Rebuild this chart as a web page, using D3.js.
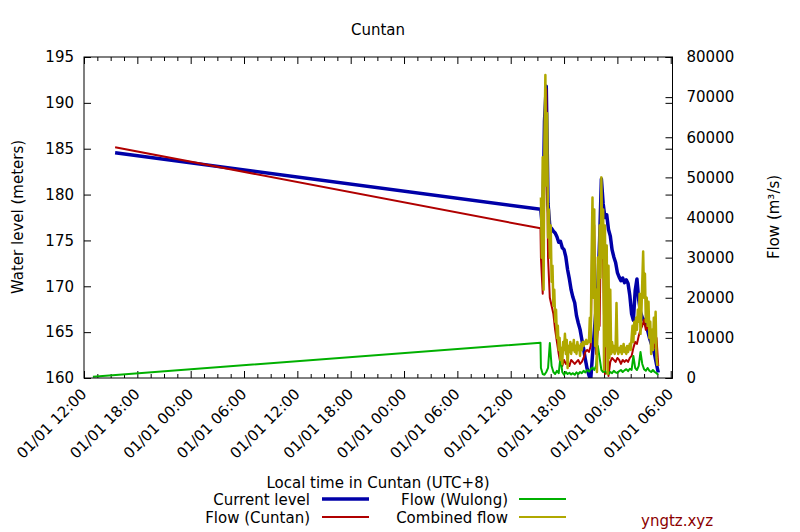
<!DOCTYPE html>
<html>
<head>
<meta charset="utf-8">
<script src="https://cdn.jsdelivr.net/npm/d3@7"></script>
<style>
  html, body { margin: 0; padding: 0; background: #fff; }
  svg { display: block; }
  text { font-family: "DejaVu Sans", sans-serif; font-size: 15px; fill: #000; }
</style>
</head>
<body>
<svg id="chart" width="800" height="532"></svg>
<script>
// ---------------- DATA ----------------
const chartTitle = "Cuntan";
const xTickHours = [0, 6, 12, 18, 24, 30, 36, 42, 48, 54, 60, 66];
const xTickLabels = ["01/01 12:00","01/01 18:00","01/01 00:00","01/01 06:00","01/01 12:00","01/01 18:00",
                     "01/01 00:00","01/01 06:00","01/01 12:00","01/01 18:00","01/01 00:00","01/01 06:00"];
const levelTicks = [160, 165, 170, 175, 180, 185, 190, 195];
const flowTicks = [0, 10000, 20000, 30000, 40000, 50000, 60000, 70000, 80000];

// early sparse readings (hours since first tick)
const levelEarlyHours = [3.5, 51.35];
const levelEarly = [184.55, 178.4];
const cuntanEarlyHours = [3.5, 51.35];
const cuntanEarly = [57500, 37300];
const wulongEarlyHours = [1.0, 51.35];
const wulongEarly = [300, 8800];

// dense readings (hours since first tick), 12-minute samples
const sampleHours = [51.4,51.6,51.8,52.0,52.2,52.4,52.6,52.8,53.0,53.2,53.4,53.6,53.8,54.0,54.2,54.4,54.6,54.8,
  55.0,55.2,55.4,55.6,55.8,56.0,56.2,56.4,56.6,56.8,57.0,57.2,57.4,57.6,57.8,58.0,58.2,58.4,58.6,58.8,
  59.0,59.2,59.4,59.6,59.8,60.0,60.2,60.4,60.6,60.8,61.0,61.2,61.4,61.6,61.8,62.0,62.2,62.4,62.6,62.8,
  63.0,63.2,63.4,63.6,63.8,64.0,64.2,64.4,64.6];
const levelValues = [178.2,176.0,188.0,191.8,179.0,176.5,176.3,176.0,175.8,175.4,174.8,174.9,174.2,174.0,173.2,171.8,170.8,169.6,
  168.8,168.2,166.8,166.0,165.3,164.2,163.2,162.0,161.0,160.3,159.8,162.5,165.0,167.5,170.0,175.0,181.7,179.0,177.5,177.8,
  176.2,175.5,174.0,173.2,172.6,171.5,171.0,170.6,170.9,170.4,170.7,170.3,169.0,167.0,166.3,169.5,170.8,168.5,167.2,166.6,
  166.3,165.8,165.2,164.4,163.8,163.2,162.5,161.5,160.6];
const cuntanValues = [30000,21000,50000,72000,30000,20000,18000,16000,12000,9000,6000,3500,3000,4500,3500,4000,3000,4500,
  4000,3500,4000,4500,3500,4000,5000,6500,7000,6500,8000,40000,38000,6000,12000,13000,46000,28000,1000,25000,
  500,4000,5000,4500,4000,5000,4500,3500,4500,4000,4500,4000,5000,5500,7500,9000,8500,10500,12000,13000,
  14500,12000,13500,11000,10000,7000,8000,10000,3000];
const wulongValues = [2500,1000,800,1500,2500,8700,3000,1500,1000,1800,1200,5200,1500,800,1500,1000,1300,900,
  1200,800,1400,1000,1500,1200,1800,1400,2000,1600,2200,2600,2000,3000,8000,5000,2000,1500,1800,1200,
  1000,1500,1200,1800,1400,1200,1700,2000,1500,1900,2200,1700,2300,2000,5500,2500,2000,3000,6500,3500,
  2200,1800,2500,1800,1500,2000,1500,1200,800];

// combined flow, 6-minute samples
const combinedHours = [51.4,51.5,51.6,51.7,51.8,51.9,52.0,52.1,52.2,52.3,52.4,52.5,52.6,52.7,52.8,52.9,53.0,53.1,53.2,53.3,
  53.4,53.5,53.6,53.7,53.8,53.9,54.0,54.1,54.2,54.3,54.4,54.5,54.6,54.7,54.8,54.9,55.0,55.1,55.2,55.3,
  55.4,55.5,55.6,55.7,55.8,55.9,56.0,56.1,56.2,56.3,56.4,56.5,56.6,56.7,56.8,56.9,57.0,57.1,57.2,57.3,
  57.4,57.5,57.6,57.7,57.8,57.9,58.0,58.1,58.2,58.3,58.4,58.5,58.6,58.7,58.8,58.9,59.0,59.1,59.2,59.3,
  59.4,59.5,59.6,59.7,59.8,59.9,60.0,60.1,60.2,60.3,60.4,60.5,60.6,60.7,60.8,60.9,61.0,61.1,61.2,61.3,
  61.4,61.5,61.6,61.7,61.8,61.9,62.0,62.1,62.2,62.3,62.4,62.5,62.6,62.7,62.8,62.9,63.0,63.1,63.2,63.3,
  63.4,63.5,63.6,63.7,63.8,63.9,64.0,64.1,64.2,64.3,64.4,64.5];
const combinedValues = [45000,30000,55000,22000,60000,75500,48000,66000,35000,42000,30000,38000,24000,28000,18000,22000,14000,17000,10000,13000,
  7000,10000,4500,7500,3500,9000,7000,11000,6000,9500,2500,8000,6500,9000,6000,8500,7000,9500,6500,8000,
  6000,9000,7000,8000,5500,8500,7000,9000,8000,9000,8500,9500,8500,9000,9000,15000,9000,30000,45000,20000,
  42000,8000,22000,1500,30000,12000,38000,25000,50000,30000,42000,2000,38000,8000,33000,1000,28000,5000,22000,6000,
  9000,6500,8000,6000,7500,18700,7000,6000,7500,6500,8000,6000,7000,8500,6500,7500,6000,8000,6500,7500,
  8500,7000,10000,13000,9000,14000,11000,15000,12000,17000,14000,21000,11000,16000,24000,31500,20000,26000,14000,20000,
  13000,19000,10000,14000,6000,12000,7000,15000,9000,16500,5000,3000];

const seriesNames = ["Current level", "Flow (Cuntan)", "Flow (Wulong)", "Combined flow"];
const seriesColors = ["#0000a8", "#b00000", "#00b000", "#b0a800"];

// ---------------- LAYOUT ----------------
const L = 84, R = 672.5, T = 57, B = 378;
const svg = d3.select("#chart");

const x = d3.scaleLinear().domain([0, 66.2]).range([L, R]);
const yL = d3.scaleLinear().domain([160, 195]).range([B, T]);
const yR = d3.scaleLinear().domain([0, 80000]).range([B, T]);

svg.append("defs").append("clipPath").attr("id", "clip")
  .append("rect").attr("x", L).attr("y", T - 2).attr("width", R - L).attr("height", B - T + 2);

// title
svg.append("text").attr("x", 378).attr("y", 35).attr("text-anchor", "middle").text(chartTitle);

// ---- axes ----
const minorHours = [];
xTickHours.forEach(h => { [1.5, 3, 4.5].forEach(o => { if (h + o <= 66.2) minorHours.push(h + o); }); });

function styleAxis(g) {
  g.select(".domain").remove();
  g.selectAll("line").attr("stroke", "#000").attr("stroke-width", 1);
}

const gxb = svg.append("g").attr("transform", `translate(0,${B})`)
  .call(d3.axisBottom(x).tickValues(xTickHours).tickFormat((d, i) => xTickLabels[i]).tickSizeInner(-7).tickSizeOuter(0));
styleAxis(gxb);
gxb.selectAll("text")
  .attr("x", null).attr("y", null).attr("dy", null)
  .attr("text-anchor", "end")
  .attr("font-size", 15)
  .attr("font-family", "DejaVu Sans, sans-serif")
  .attr("fill", "#000")
  .attr("transform", "translate(3,17) rotate(-45)");
const gxbm = svg.append("g").attr("transform", `translate(0,${B})`)
  .call(d3.axisBottom(x).tickValues(minorHours).tickFormat("").tickSizeInner(-4).tickSizeOuter(0));
styleAxis(gxbm);
const gxt = svg.append("g").attr("transform", `translate(0,${T})`)
  .call(d3.axisTop(x).tickValues(xTickHours).tickFormat("").tickSizeInner(-7).tickSizeOuter(0));
styleAxis(gxt);
const gxtm = svg.append("g").attr("transform", `translate(0,${T})`)
  .call(d3.axisTop(x).tickValues(minorHours).tickFormat("").tickSizeInner(-4).tickSizeOuter(0));
styleAxis(gxtm);

const gyl = svg.append("g").attr("transform", `translate(${L},0)`)
  .call(d3.axisLeft(yL).tickValues(levelTicks).tickSizeInner(-7).tickSizeOuter(0).tickPadding(10));
styleAxis(gyl);
gyl.selectAll("text").attr("font-size", 15).attr("font-family", "DejaVu Sans, sans-serif").attr("fill", "#000");
const gylm = svg.append("g").attr("transform", `translate(${R},0)`)
  .call(d3.axisRight(yL).tickValues(levelTicks).tickFormat("").tickSizeInner(-7).tickSizeOuter(0));
styleAxis(gylm);
const gyr = svg.append("g").attr("transform", `translate(${R},0)`)
  .call(d3.axisRight(yR).tickValues(flowTicks).tickFormat(d3.format("d")).tickSizeInner(-7).tickSizeOuter(0).tickPadding(14));
styleAxis(gyr);
gyr.selectAll("text").attr("font-size", 15).attr("font-family", "DejaVu Sans, sans-serif").attr("fill", "#000");

svg.append("text").attr("transform", `translate(23,217) rotate(-90)`).attr("text-anchor", "middle").text("Water level (meters)");
svg.append("text").attr("transform", `translate(779,217) rotate(-90)`).attr("text-anchor", "middle").text("Flow (m³/s)");

// ---- series ----
function pts(hs, vs) { return hs.map((h, i) => [h, vs[i]]); }
const levelData = pts(levelEarlyHours, levelEarly).concat(pts(sampleHours, levelValues));
const cuntanData = pts(cuntanEarlyHours, cuntanEarly).concat(pts(sampleHours, cuntanValues));
const wulongData = pts(wulongEarlyHours, wulongEarly).concat(pts(sampleHours, wulongValues));
const combinedData = pts(combinedHours, combinedValues);

const lineL = d3.line().x(d => x(d[0])).y(d => yL(d[1]));
const lineR = d3.line().x(d => x(d[0])).y(d => yR(d[1]));

const plot = svg.append("g").attr("clip-path", "url(#clip)");
plot.append("path").datum(levelData).attr("d", lineL).attr("fill", "none").attr("stroke", seriesColors[0]).attr("stroke-width", 3.5).attr("stroke-linejoin", "round");
plot.append("path").datum(cuntanData).attr("d", lineR).attr("fill", "none").attr("stroke", seriesColors[1]).attr("stroke-width", 2).attr("stroke-linejoin", "round");
plot.append("path").datum(wulongData).attr("d", lineR).attr("fill", "none").attr("stroke", seriesColors[2]).attr("stroke-width", 2).attr("stroke-linejoin", "round");
plot.append("path").datum(combinedData).attr("d", lineR).attr("fill", "none").attr("stroke", seriesColors[3]).attr("stroke-width", 2.5).attr("stroke-linejoin", "round");

svg.append("rect").attr("x", L).attr("y", T).attr("width", R - L).attr("height", B - T)
  .attr("fill", "none").attr("stroke", "#000").attr("stroke-width", 1);

// ---- legend ----
svg.append("text").attr("x", 378).attr("y", 487.5).attr("text-anchor", "middle").text("Local time in Cuntan (UTC+8)");
const legendPos = [
  { tx: 310, sx: 322, y: 499 },
  { tx: 310, sx: 322, y: 517 },
  { tx: 508, sx: 519, y: 499 },
  { tx: 508, sx: 519, y: 517 }
];
const legendWidths = [3.5, 2, 2, 2];
seriesNames.forEach((name, i) => {
  const p = legendPos[i];
  svg.append("text").attr("x", p.tx).attr("y", p.y + 5.5).attr("text-anchor", "end").text(name);
  svg.append("line").attr("x1", p.sx).attr("x2", p.sx + 47).attr("y1", p.y).attr("y2", p.y)
    .attr("stroke", seriesColors[i]).attr("stroke-width", legendWidths[i]);
});

svg.append("text").attr("x", 641).attr("y", 526).style("fill", "#8b0000").text("yngtz.xyz");
</script>
</body>
</html>
